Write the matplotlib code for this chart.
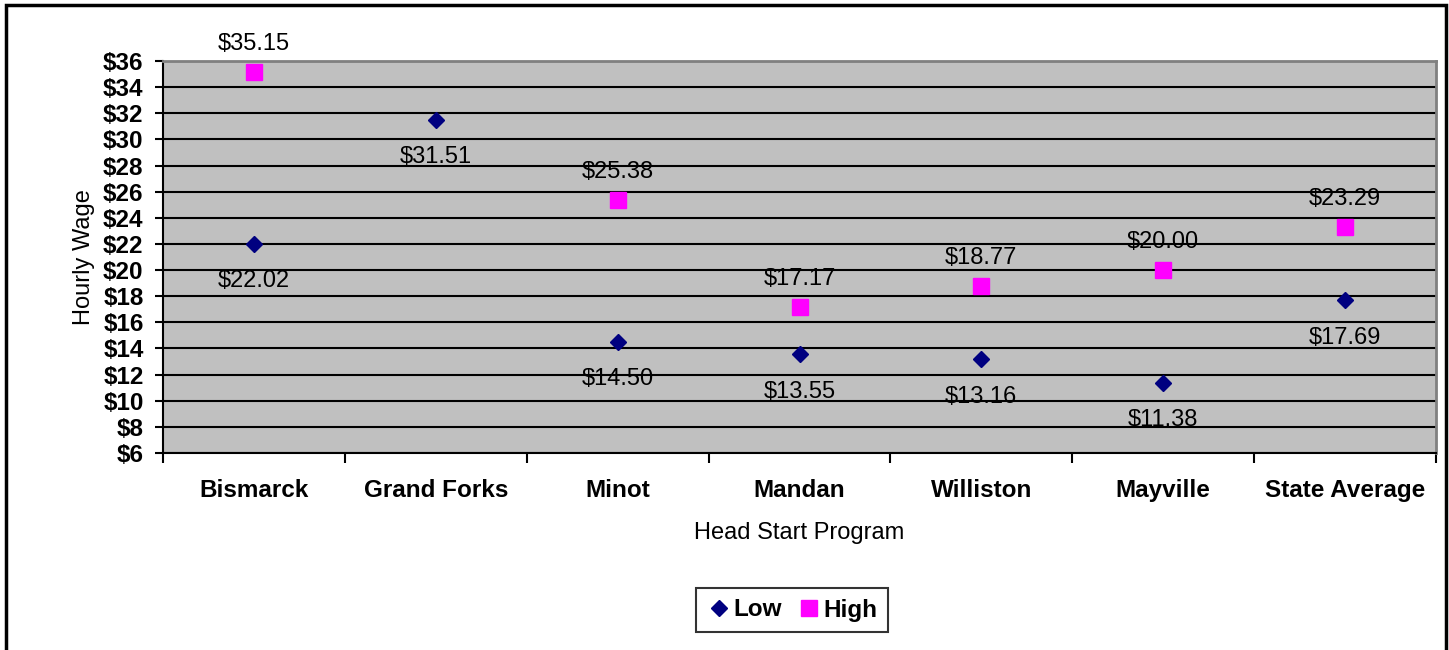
import matplotlib
matplotlib.use("Agg")
import matplotlib.pyplot as plt
from matplotlib.patches import Rectangle

plt.rcParams['font.family'] = ['Liberation Sans', 'DejaVu Sans']

# data
programs = ["Bismarck", "Grand Forks", "Minot", "Mandan", "Williston", "Mayville", "State Average"]
low = [22.02, 31.51, 14.50, 13.55, 13.16, 11.38, 17.69]
high = [35.15, None, 25.38, 17.17, 18.77, 20.00, 23.29]
yticks = list(range(6, 37, 2))

fig = plt.figure(figsize=(14.49, 6.5), dpi=100)
ax = fig.add_axes([163/1449, 1 - 453/650, (1436 - 163)/1449, (453 - 61)/650])
ax.set_facecolor("#C0C0C0")

x = list(range(len(programs)))
hx = [i for i, v in zip(x, high) if v is not None]
hv = [v for v in high if v is not None]

ax.plot(x, low, linestyle="none", marker="D", ms=8, color="#000080", label="Low", zorder=3)
ax.plot(hx, hv, linestyle="none", marker="s", ms=11, color="#FF00FF", label="High", zorder=3)

for i, v in zip(x, low):
    ax.annotate("${:.2f}".format(v), (i, v), xytext=(0, -27), textcoords="offset points",
                ha="center", va="center", fontsize=17)
for i, v in zip(hx, hv):
    ax.annotate("${:.2f}".format(v), (i, v), xytext=(0, 20), textcoords="offset points",
                ha="center", va="center", fontsize=17, annotation_clip=False)

ax.set_ylim(6, 36)
ax.set_xlim(-0.5, len(programs) - 0.5)
ax.set_yticks(yticks)
ax.set_yticklabels(["${}".format(t) for t in yticks], fontsize=17.5, fontweight="bold")
ax.yaxis.grid(True, color="black", linewidth=1.5)
ax.set_axisbelow(True)
ax.tick_params(axis="y", direction="out", length=6, width=1.5, pad=8)

# category labels at centers, ticks at boundaries
ax.set_xticks([i - 0.5 for i in range(len(programs) + 1)])
ax.set_xticklabels([])
ax.set_xticks(x, minor=True)
ax.set_xticklabels(programs, minor=True, fontsize=17.5, fontweight="bold")
ax.tick_params(axis="x", which="major", direction="out", length=7, width=1.5)
ax.tick_params(axis="x", which="minor", length=0, pad=19)

for s in ["left", "bottom"]:
    ax.spines[s].set_color("black")
    ax.spines[s].set_linewidth(1.5)
for s in ["top", "right"]:
    ax.spines[s].set_color("#808080")
    ax.spines[s].set_linewidth(2)

ax.set_ylabel("Hourly Wage", fontsize=17, labelpad=6)
ax.set_xlabel("Head Start Program", fontsize=17, labelpad=14)

leg = fig.legend(loc="center", bbox_to_anchor=(792/1449, 1 - 610/650), ncol=2,
                 frameon=True, fancybox=False, edgecolor="black",
                 prop={"size": 17.5, "weight": "bold"}, handletextpad=0.1,
                 columnspacing=0.6, handlelength=1.0, borderpad=0.45)
leg.get_frame().set_linewidth(1.5)

# outer frame
fig.patches.append(Rectangle((6/1449, -0.05), (1446 - 6)/1449, 1.05 - 5/650,
                             transform=fig.transFigure, fill=False,
                             edgecolor="black", linewidth=2.5))

fig.savefig("out.png", dpi=100)
